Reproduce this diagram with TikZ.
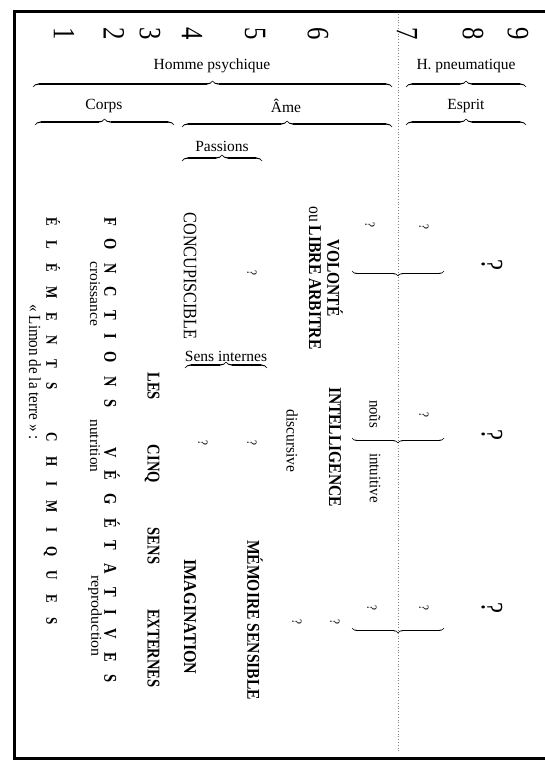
\documentclass[tikz,border=0pt]{standalone}
\usepackage{fontspec}
\setmainfont{Liberation Serif}
\usepackage{graphicx}
\usetikzlibrary{decorations.pathreplacing,calligraphy}
\newcommand{\rz}[2]{\resizebox{#1}{\height}{#2}}
\newcommand{\cz}[1]{\scalebox{0.8}[1]{#1}}
\newcommand{\fs}[1]{\fontsize{#1}{#1}\selectfont}
\begin{document}
\begin{tikzpicture}[x=1pt,y=-1pt,
  rot/.style={rotate=-90,inner sep=0pt,anchor=center},
  hdr/.style={inner sep=0pt,font=\fs{15.5}},
  hbrace/.style={decorate,decoration={calligraphic brace,amplitude=6pt},line width=1.3pt,pen colour={black}},
  sbrace/.style={decorate,decoration={calligraphic brace,amplitude=5pt},line width=1.1pt,pen colour={black}},
  framestyle/.style={line width=3pt},
  sepline/.style={gray,dotted,line width=0.8pt},
  digit/.style={rot,font=\fs{31}},
  qs/.style={rot,font=\fs{14}},
  qb/.style={rot,font=\fs{31}},
]
\useasboundingbox (0,0) rectangle (544,770);
% frame
\coordinate (fTR) at (548,12); \coordinate (fTL) at (14,12);
\coordinate (fBL) at (14,758); \coordinate (fBR) at (548,758);
\draw[framestyle] (fTR) -- (fTL) -- (fBL) -- (fBR);
% dotted separator
\coordinate (dT) at (398,14); \coordinate (dB) at (398,752);
\draw[sepline] (dT) -- (dB);

% row numbers
\node[digit] (n1) at (64,34) {\cz{1}};
\node[digit] (n2) at (114,34) {\cz{2}};
\node[digit] (n3) at (150,34) {\cz{3}};
\node[digit] (n4) at (192,34) {\cz{4}};
\node[digit] (n5) at (255,34) {\cz{5}};
\node[digit] (n6) at (318,34) {\cz{6}};
\node[digit] (n7) at (407,34) {\cz{7}};
\node[digit] (n8) at (473,34) {\cz{8}};
\node[digit] (n9) at (518,34) {\cz{9}};

% headers
\node[hdr] (hpsy) at (212,66) {Homme psychique};
\coordinate (hpsyL) at (33,87); \coordinate (hpsyR) at (392,87);
\draw[hbrace] (hpsyL) -- (hpsyR);
\node[hdr] (hpne) at (466,66) {H. pneumatique};
\coordinate (hpneL) at (406,87); \coordinate (hpneR) at (526,87);
\draw[hbrace] (hpneL) -- (hpneR);
\node[hdr] (corps) at (104,106) {Corps};
\coordinate (corpsL) at (35,125); \coordinate (corpsR) at (174,125);
\draw[hbrace] (corpsL) -- (corpsR);
\node[hdr] (ame) at (286,106) {Âme};
\coordinate (ameL) at (182,127); \coordinate (ameR) at (392,127);
\draw[hbrace] (ameL) -- (ameR);
\node[hdr] (esprit) at (466,106) {Esprit};
\coordinate (espL) at (406,125); \coordinate (espR) at (526,125);
\draw[hbrace] (espL) -- (espR);
\node[hdr] (pass) at (222,146) {Passions};
\coordinate (passL) at (182,161); \coordinate (passR) at (262,161);
\draw[hbrace] (passL) -- (passR);
\node[hdr] (sensint) at (226,356) {Sens internes};
\coordinate (siL) at (185,368); \coordinate (siR) at (267,368);
\draw[hbrace] (siL) -- (siR);

% rotated texts
\node[rot,font=\fs{17}] (limon) at (35,372) {\rz{135pt}{« Limon de la terre » :}};
\node[rot,font=\fs{16}\bfseries] (elem) at (52,421) {\rz{408pt}{\makebox[500pt][s]{É\hfill L\hfill É\hfill M\hfill E\hfill N\hfill T\hfill S\hfill\hfill\hfill C\hfill H\hfill I\hfill M\hfill I\hfill Q\hfill U\hfill E\hfill S}}};
\node[rot,font=\fs{15}] (crois) at (95,294) {\rz{65pt}{croissance}};
\node[rot,font=\fs{15}] (nutr) at (95,446) {\rz{53pt}{nutrition}};
\node[rot,font=\fs{15}] (repr) at (95,616) {\rz{82pt}{reproduction}};
\node[rot,font=\fs{18}\bfseries] (fonct) at (112,450) {\rz{466pt}{\makebox[580pt][s]{F\hfill O\hfill N\hfill C\hfill T\hfill I\hfill O\hfill N\hfill S\hfill\hfill\hfill V\hfill É\hfill G\hfill É\hfill T\hfill A\hfill T\hfill I\hfill V\hfill E\hfill S}}};
\node[rot,font=\fs{18}\bfseries] (sensext) at (152,530) {\rz{315pt}{\makebox[390pt][s]{LES\hfill CINQ\hfill SENS\hfill EXTERNES}}};
\node[rot,font=\fs{19}] (concup) at (190,276) {\rz{127pt}{CONCUPISCIBLE}};
\node[rot,font=\fs{18}\bfseries] (imag) at (190,617) {\rz{115pt}{IMAGINATION}};
\node[rot,font=\fs{18}\bfseries] (memo) at (255,620) {\rz{160pt}{MÉMOIRE SENSIBLE}};
\node[rot,font=\fs{16}] (discur) at (292,441) {\rz{63pt}{discursive}};
\node[rot,font=\fs{18}] (libre) at (315,278) {\rz{143pt}{ou \textbf{LIBRE ARBITRE}}};
\node[rot,font=\fs{18}\bfseries] (volonte) at (335,278) {\rz{77pt}{VOLONTÉ}};
\node[rot,font=\fs{18}\bfseries] (intel) at (335,447) {\rz{120pt}{INTELLIGENCE}};
\node[rot,font=\fs{16}] (nous) at (375,414) {\rz{28pt}{no\~us}};
\node[rot,font=\fs{16}] (intuit) at (375,478) {\rz{50pt}{intuitive}};

% question marks
\node[qs] (q1) at (252,273) {\cz{?}};
\node[qs] (q2) at (370,225) {\cz{?}};
\node[qs] (q3) at (424,227) {\cz{?}};
\node[qb] (Q1) at (492,265) {\cz{?}};
\node[qs] (q4) at (203,443) {\cz{?}};
\node[qs] (q5) at (252,443) {\cz{?}};
\node[qs] (q6) at (424,415) {\cz{?}};
\node[qb] (Q2) at (492,435) {\cz{?}};
\node[qs] (q7) at (297,622) {\cz{?}};
\node[qs] (q8) at (335,622) {\cz{?}};
\node[qs] (q9) at (372,608) {\cz{?}};
\node[qs] (q10) at (424,608) {\cz{?}};
\node[qb] (Q3) at (492,608) {\cz{?}};

% small braces (tip down)
\coordinate (b1R) at (444,271); \coordinate (b1L) at (352,271);
\draw[sbrace] (b1R) -- (b1L);
\coordinate (b2R) at (444,438); \coordinate (b2L) at (352,438);
\draw[sbrace] (b2R) -- (b2L);
\coordinate (b3R) at (444,628); \coordinate (b3L) at (352,628);
\draw[sbrace] (b3R) -- (b3L);
\end{tikzpicture}
\end{document}
